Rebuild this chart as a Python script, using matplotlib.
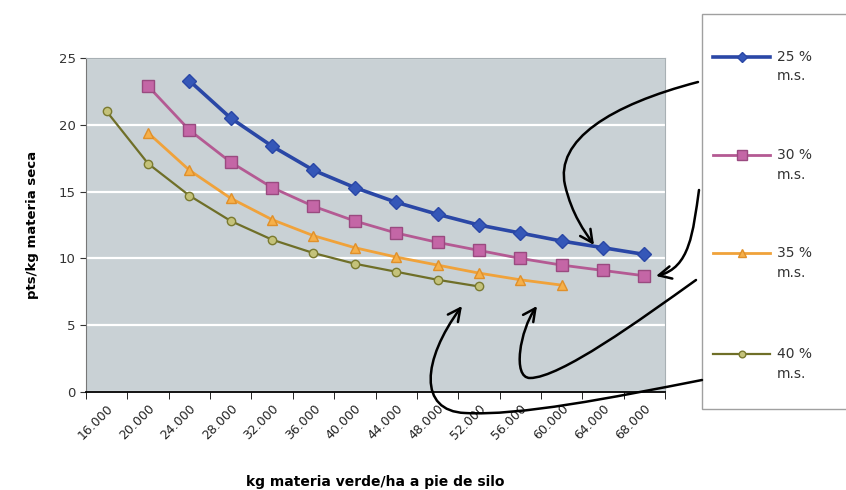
import numpy as np
import matplotlib
matplotlib.use("Agg")
import matplotlib.pyplot as plt
from matplotlib.path import Path
from matplotlib.patches import FancyArrowPatch, Rectangle
from matplotlib.lines import Line2D

# kg materia verde/ha (categories)
kg_verde = ['16.000', '20.000', '24.000', '28.000', '32.000', '36.000', '40.000',
            '44.000', '48.000', '52.000', '56.000', '60.000', '64.000', '68.000']
nan = np.nan
ms25 = [nan, nan, 23.3, 20.5, 18.4, 16.6, 15.3, 14.2, 13.3, 12.5, 11.9, 11.3, 10.8, 10.3]
ms30 = [nan, 22.9, 19.6, 17.2, 15.3, 13.9, 12.8, 11.9, 11.2, 10.6, 10.0, 9.5, 9.1, 8.7]
ms35 = [nan, 19.4, 16.6, 14.5, 12.9, 11.7, 10.8, 10.1, 9.5, 8.9, 8.4, 8.0, nan, nan]
ms40 = [21.0, 17.1, 14.7, 12.8, 11.4, 10.4, 9.6, 9.0, 8.4, 7.9, nan, nan, nan, nan]
labels = ['25 %\nm.s.', '30 %\nm.s.', '35 %\nm.s.', '40 %\nm.s.']

fig = plt.figure(figsize=(8.46, 4.9), dpi=100)
ax = fig.add_axes([86 / 846, 98 / 490, 579 / 846, 334 / 490])
ax.set_facecolor('#c9d1d5')

x = np.arange(len(kg_verde))
styles = [
    dict(color='#2a47a6', marker='D', ms=7, lw=2.6, mfc='#3557b8', mec='#2a47a6'),
    dict(color='#b45a93', marker='s', ms=9, lw=2.0, mfc='#c466a6', mec='#9a4a80'),
    dict(color='#f0a23a', marker='^', ms=7, lw=2.0, mfc='#f6b04a', mec='#e0902a'),
    dict(color='#6f6f28', marker='o', ms=6, lw=1.6, mfc='#c4c27a', mec='#7a7a30'),
]
handles = []
for ys, st in zip([ms25, ms30, ms35, ms40], styles):
    h, = ax.plot(x, ys, zorder=3, **st)
    handles.append(h)

ax.set_xlim(-0.5, len(kg_verde) - 0.5)
ax.set_ylim(0, 25)
ax.set_yticks(np.arange(0, 26, 5))
ax.yaxis.grid(True, color='white', lw=1.6)
ax.set_axisbelow(True)

ax.set_xticks(x)
ax.set_xticklabels(kg_verde, rotation=45, ha='right', va='top', fontsize=9,
                   rotation_mode='anchor', color='#222222')
ax.set_xticks(np.arange(-0.5, len(kg_verde)), minor=True)
ax.tick_params(axis='x', which='major', length=0, pad=7)
ax.tick_params(axis='x', which='minor', length=5, direction='out', color='black')
ax.tick_params(axis='y', length=4, direction='out', labelsize=9.5, colors='#333333')

for s in ['top', 'right']:
    ax.spines[s].set_color('#a8b0b4')
ax.spines['left'].set_color('#777777')
ax.spines['bottom'].set_color('black')
ax.spines['bottom'].set_linewidth(1.3)

ax.set_ylabel('pts/kg materia seca', fontsize=9.5, fontweight='bold', labelpad=14)
ax.set_xlabel('kg materia verde/ha a pie de silo', fontsize=10, fontweight='bold', labelpad=24)

# overlay in pixel coordinates for legend box and hand-drawn arrows
ov = fig.add_axes([0, 0, 1, 1], zorder=10)
ov.set_xlim(0, 846)
ov.set_ylim(490, 0)
ov.axis('off')
ov.patch.set_alpha(0)

ov.add_patch(Rectangle((702, 14), 150, 395, facecolor='white', edgecolor='#a0a0a0', lw=1))
leg_y = [57, 155, 253, 354]
for h, lab, yy in zip(handles, labels, leg_y):
    ov.add_line(Line2D([713, 741.5, 770], [yy, yy, yy], color=h.get_color(),
                       lw=h.get_linewidth(), marker=h.get_marker(), markevery=[1],
                       ms=h.get_markersize() * 0.8, mfc=h.get_markerfacecolor(),
                       mec=h.get_markeredgecolor()))
    ov.text(777, yy - 7, lab, fontsize=10, color='#333333', va='top', ha='left',
            linespacing=1.5)

M, C = Path.MOVETO, Path.CURVE4
arrows = [
    [(698, 82), (610, 105), (555, 140), (565, 185), (572, 215), (585, 232), (594, 245)],
    [(699, 190), (693, 232), (690, 268), (656, 276)],
    [(696, 280), (640, 320), (560, 378), (530, 378), (512, 378), (520, 330), (537, 306)],
    [(702, 380), (610, 398), (520, 416), (465, 413), (418, 411), (422, 360), (462, 306)],
]
for pts in arrows:
    codes = [M] + [C] * (len(pts) - 1)
    ov.add_patch(FancyArrowPatch(path=Path(pts, codes),
                                 arrowstyle='->,head_length=6,head_width=3',
                                 color='black', lw=1.8, mutation_scale=1.5))

fig.savefig('out.png', dpi=100)
